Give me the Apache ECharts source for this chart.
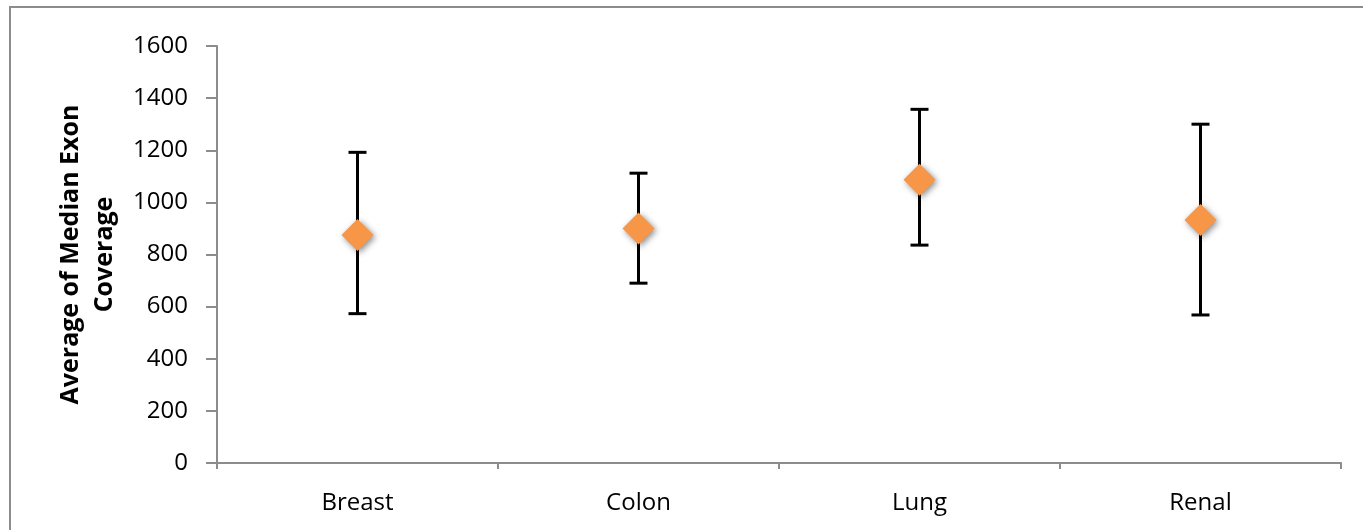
<!DOCTYPE html>
<html><head><meta charset="utf-8">
<script src="https://cdn.jsdelivr.net/npm/echarts@6/dist/echarts.min.js"></script>
<style>html,body{margin:0;padding:0;background:#fff}#c{width:1363px;height:530px}</style>
</head><body><div id="c"></div>
<script>
var categories = ['Breast', 'Colon', 'Lung', 'Renal'];
var means = [875, 900, 1087, 932];
var upper = [1192, 1112, 1357, 1300];
var lower = [573, 690, 836, 568];
var yTicks = [0, 200, 400, 600, 800, 1000, 1200, 1400, 1600];

var chart = echarts.init(document.getElementById('c'));
var FONT = '"Open Sans", "Liberation Sans", sans-serif';
var errData = categories.map(function (c, i) { return [i, lower[i], upper[i]]; });

chart.setOption({
  animation: false,
  backgroundColor: '#fff',
  graphic: [{
    type: 'rect', z: 100, silent: true,
    shape: { x: 10, y: 7, width: 1400, height: 600 },
    style: { fill: 'none', stroke: '#8c8c8c', lineWidth: 2 }
  }],
  grid: { left: 217, right: 22, top: 46, bottom: 67, containLabel: false },
  xAxis: {
    type: 'category', data: categories, boundaryGap: true,
    axisLine: { lineStyle: { color: '#8c8c8c', width: 2 } },
    axisTick: { show: true, length: 6, lineStyle: { color: '#8c8c8c', width: 2 } },
    axisLabel: { color: '#000', fontSize: 24, fontFamily: FONT, margin: 28 },
    splitLine: { show: false }
  },
  yAxis: {
    type: 'value', min: yTicks[0], max: yTicks[yTicks.length - 1], interval: 200,
    name: 'Average of Median Exon\nCoverage',
    nameLocation: 'middle', nameRotate: 90, nameGap: 93,
    nameTextStyle: { color: '#000', fontSize: 25, fontWeight: 'bold', fontFamily: FONT, lineHeight: 34 },
    axisLine: { show: true, lineStyle: { color: '#8c8c8c', width: 2 } },
    axisTick: { show: true, length: 11, lineStyle: { color: '#8c8c8c', width: 2 } },
    axisLabel: { color: '#000', fontSize: 24, fontFamily: FONT, margin: 29,
      formatter: function (v) { return String(v); } },
    splitLine: { show: false }
  },
  series: [{
    type: 'custom',
    data: errData,
    z: 2,
    renderItem: function (params, api) {
      var x = api.value(0);
      var lo = api.coord([x, api.value(1)]);
      var hi = api.coord([x, api.value(2)]);
      var half = 9;
      var st = { stroke: '#000', lineWidth: 3 };
      return {
        type: 'group',
        children: [
          { type: 'line', shape: { x1: lo[0], y1: lo[1], x2: hi[0], y2: hi[1] }, style: st },
          { type: 'line', shape: { x1: lo[0] - half, y1: lo[1], x2: lo[0] + half, y2: lo[1] }, style: st },
          { type: 'line', shape: { x1: hi[0] - half, y1: hi[1], x2: hi[0] + half, y2: hi[1] }, style: st }
        ]
      };
    }
  }, {
    type: 'scatter',
    data: means,
    z: 3,
    symbol: 'diamond',
    symbolSize: [32, 32],
    itemStyle: {
      color: '#F79646', opacity: 1,
      shadowColor: 'rgba(0,0,0,0.45)', shadowBlur: 6, shadowOffsetX: 2, shadowOffsetY: 2
    }
  }]
});
</script></body></html>
